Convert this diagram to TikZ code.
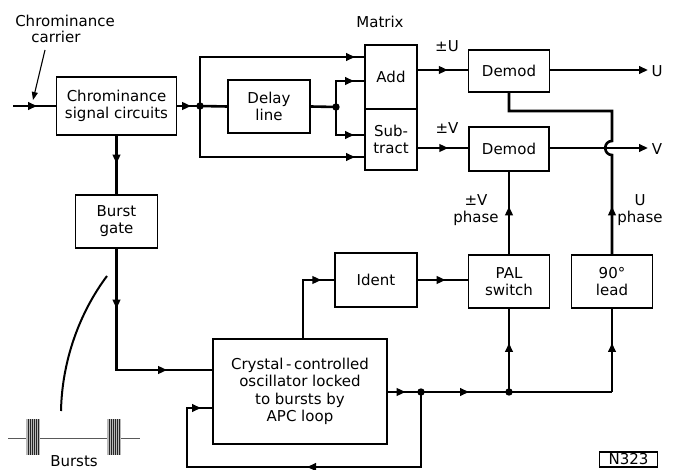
\documentclass[tikz,border=0pt]{standalone}
\usepackage{fontspec}
\setmainfont{DejaVu Sans}
\usetikzlibrary{arrows.meta,decorations.markings}
\newcommand\myfs{\fontsize{15}{17}\selectfont}
\begin{document}
\begin{tikzpicture}[x=1pt,y=-1pt,
  box/.style={draw,line width=1.3pt,inner sep=0pt,align=center,font=\myfs},
  conn/.style={line width=2.6pt},
  lbl/.style={inner sep=0pt,align=center,font=\myfs},
  midarr/.style={postaction={decorate,decoration={markings,mark=at position #1 with {\arrow{Triangle[length=9pt,width=7.5pt]}}}}},
  endarr/.style={-{Triangle[length=9pt,width=7.5pt]}},
  dot/.style={circle,fill,inner sep=0pt,minimum size=7pt}]
\useasboundingbox (0,0) rectangle (675,470);
% boxes
\node[box,minimum width=120pt,minimum height=58pt] (chroma) at (116.5,106) {Chrominance\\signal circuits};
\node[box,minimum width=82pt,minimum height=53pt] (delay) at (269,106.5) {Delay\\line};
\node[box,minimum width=52pt,minimum height=64pt] (add) at (391,77) {Add};
\node[box,minimum width=52pt,minimum height=61pt] (sub) at (391,139.5) {Sub-\\tract};
\node[box,minimum width=81pt,minimum height=42pt] (dem1) at (509,71) {Demod};
\node[box,minimum width=80pt,minimum height=44pt] (dem2) at (509,149) {Demod};
\node[box,minimum width=82pt,minimum height=53pt] (burst) at (116.5,221.5) {Burst\\gate};
\node[box,minimum width=82pt,minimum height=54pt] (ident) at (376,280) {Ident};
\node[box,minimum width=81pt,minimum height=53pt] (pal) at (509,281.5) {PAL\\switch};
\node[box,minimum width=81pt,minimum height=53pt] (lead) at (612,281.5) {90°\\lead};
\node[box,minimum width=174pt,minimum height=105pt,font=\fontsize{15}{17.5}\selectfont] (xtal) at (300,391.5) {Crystal\,-\,controlled\\oscillator locked\\to bursts by\\APC loop};
% labels
\node[lbl] (lchr) at (65,21) {Chrominance};
\node[lbl] (lcar) at (56,37) {carrier};
\node[lbl] (lmat) at (380,22) {Matrix};
\node[lbl] (lpu) at (447,46) {±U};
\node[lbl] (lpv) at (447,128) {±V};
\node[lbl] (lu) at (657,71) {U};
\node[lbl] (lv) at (657,149) {V};
\node[lbl] (lvp) at (476,210) {±V\\phase};
\node[lbl] (lup) at (640,210) {U\\phase};
\node[draw,line width=1.4pt,inner sep=1.5pt,font=\fontsize{15}{17}\selectfont,minimum width=58pt,minimum height=15pt] (n323) at (628.5,459.5) {N323};
\node[lbl] (lbur) at (74,461) {Bursts};
% coordinates
\coordinate (in) at (13,106);
\coordinate (j1) at (200,106);
\coordinate (j2) at (336,107);
\coordinate (a1) at (365,57);
\coordinate (a2) at (365,81);
\coordinate (s1) at (365,135);
\coordinate (s2) at (365,157);
\coordinate (ao) at (417,70);
\coordinate (so) at (417,148);
\coordinate (uo) at (648,70);
\coordinate (vo) at (648,148);
\coordinate (h1) at (612,111);
\coordinate (h2) at (612,141);
\coordinate (h3) at (612,155);
\coordinate (xt) at (303,339);
\coordinate (j3) at (421,392);
\coordinate (j4) at (509,392);
\coordinate (c6) at (612,392);
\coordinate (l1) at (421,467);
\coordinate (l2) at (187,467);
\coordinate (l3) at (187,408);
\coordinate (xi) at (213,408);
\coordinate (xb) at (213,370);
\coordinate (ca) at (45,50);
\coordinate (cb) at (33,100);
% connectors
\draw[conn,midarr=24pt] (in) -- (chroma.west);
\draw[conn,midarr=14pt] (chroma.east) -- (j1);
\draw[conn] (j1) -- (delay.west);
\draw[conn,midarr=-10pt] (j1) |- (a1);
\draw[conn,midarr=-10pt] (j1) |- (s2);
\draw[conn] (delay.east) -- (j2);
\draw[conn,midarr=-11pt] (j2) |- (a2);
\draw[conn,midarr=-11pt] (j2) |- (s1);
\draw[conn,midarr=-20pt] (ao) -- (dem1.west |- ao);
\draw[conn,midarr=-20pt] (so) -- (dem2.west |- so);
\draw[conn,endarr] (dem1.east |- uo) -- (uo);
\draw[conn,endarr] (dem2.east |- vo) -- (vo);
\draw[conn,midarr=48pt] (lead.north) -- (h3) .. controls (603,155) and (603,141) .. (h2) -- (h1) -| (dem1.south);
\draw[conn,midarr=48pt] (pal.north) -- (dem2.south);
\draw[conn,midarr=28pt] (ident.east) -- (pal.west |- ident.east);
\draw[conn,midarr=-13pt] (xt) |- (ident.west);
\draw[conn,midarr=28pt] (chroma.south) -- (burst.north);
\draw[conn,midarr=60pt,midarr=172pt] (burst.south) |- (xb);
\draw[conn,midarr=18pt] (xtal.east |- j3) -- (j3);
\draw[conn,midarr=48pt] (j3) -- (j4);
\draw[conn,midarr=49pt] (j4) -- (pal.south);
\draw[conn] (j4) -- (c6);
\draw[conn,midarr=49pt] (c6) -- (lead.south);
\draw[conn,midarr=189pt,midarr=-12pt] (j3) -- (l1) -- (l2) -- (l3) -- (xi);
\fill (j1) circle (3.7pt) (j2) circle (3.7pt) (j3) circle (3.7pt) (j4) circle (3.7pt);
% carrier arrow
\draw[line width=1.1pt,-{Triangle[length=8pt,width=6pt]}] (ca) -- (cb);
% bursts sketch
\draw[line width=2pt] (107,276) .. controls (80,312) and (62,360) .. (61,411);
\draw[gray!70!black,line width=1pt] (8,438) -- (140,438);
\foreach \bx in {26,107}{
  \fill[gray!55] (\bx,419) rectangle (\bx+14,455);
  \foreach \k in {1,...,6} \draw[gray!30!black,line width=0.5pt] (\bx+2*\k,419) -- (\bx+2*\k,455);
}
\end{tikzpicture}
\end{document}
